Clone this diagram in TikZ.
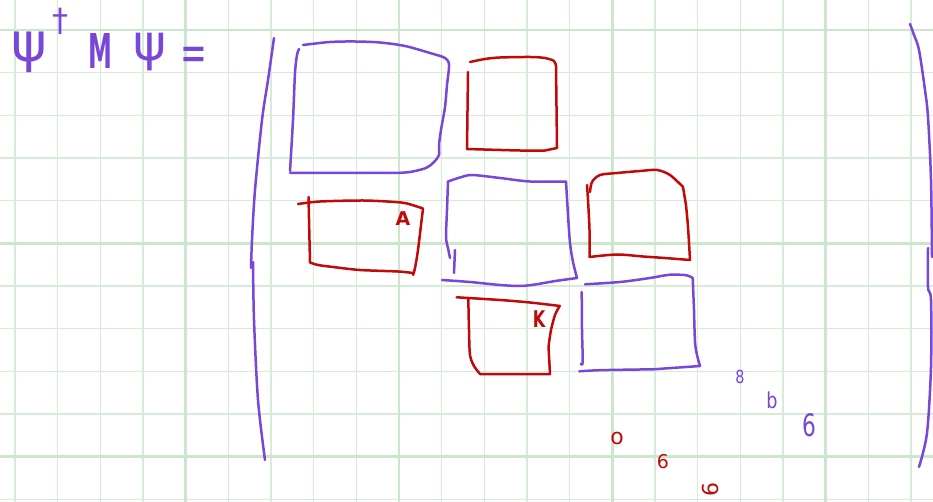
\documentclass[tikz,border=0pt]{standalone}
\usepackage{fontspec}
\setmainfont{DejaVu Sans}
\definecolor{inkpurple}{HTML}{7846D8}
\definecolor{inkred}{HTML}{C00A0A}
\definecolor{gridthin}{HTML}{D6ECD6}
\definecolor{gridmajor}{HTML}{CCE6CC}

\begin{document}
\begin{tikzpicture}[
        x=1pt, y=-1pt,
        gridline/.style={draw=gridthin, line width=1.4pt},
        gridbold/.style={draw=gridmajor, line width=2.8pt},
        ink/.style={draw=#1, line width=2.5pt, line cap=round, line join=round},
        glyph/.style={text=#1, inner sep=0pt}
    ]
        \useasboundingbox (0,0) rectangle (933,502);
        \fill[white] (0,0) rectangle (933,502);

        % Grid paper
        \foreach \i in {0,...,21} {
            \draw[gridline] ({15+42.67*\i},0) -- ({15+42.67*\i},502);
        }
        \foreach \i in {0,...,11} {
            \draw[gridline] (0,{30+42.67*\i}) -- (933,{30+42.67*\i});
        }
        \foreach \i in {4,9,14,19} {
            \draw[gridbold] ({15+42.67*\i},0) -- ({15+42.67*\i},502);
        }
        \foreach \i in {0,5,10} {
            \draw[gridbold] (0,{30+42.67*\i}) -- (933,{30+42.67*\i});
        }

        % Left-hand side
        \node[glyph=inkpurple, font=\fontsize{54}{54}\selectfont] (psiL) at (29,52) {ψ};
        \node[glyph=inkpurple, font=\fontsize{32}{32}\selectfont] (dag) at (60,21) {†};
        \node[glyph=inkpurple, font=\fontsize{48}{48}\selectfont\bfseries, xscale=0.5] (mat) at (100,51) {M};
        \node[glyph=inkpurple, font=\fontsize{50}{50}\selectfont] (psiR) at (150,52) {ψ};
        \node[glyph=inkpurple, font=\fontsize{32}{32}\selectfont, yscale=1.6] (eq) at (194,59) {=};

        % Brackets
        \draw[ink=inkpurple] plot[smooth] coordinates {(274,38) (268,80) (262,120) (255,190) (252,240) (251,268)};
        \draw[ink=inkpurple] plot[smooth] coordinates {(253,262) (254,320) (258,400) (265,460)};
        \draw[ink=inkpurple] plot[smooth] coordinates {(910,24) (914,35) (919,50) (925,90) (928,117) (931,180) (932,257)};
        \draw[ink=inkpurple] plot[smooth] coordinates {(928,248) (928,287) (931,300) (931,367) (927,433) (919,467)};

        % Diagonal blocks
        \draw[ink=inkpurple] plot[smooth] coordinates {(303,45) (330,42) (355,41.5) (380,42.5) (405,46) (430,53) (445,58) (449,65) (447,85) (445,107) (441,130) (439,145) (439,155) (434,162) (426,168) (410,172) (395,173)} -- (290,173);
        \draw[ink=inkpurple] plot[smooth] coordinates {(290,171) (293,120) (295,73) (297,55) (299,49)};

        \draw[ink=inkpurple] plot[smooth] coordinates {(448,181.5) (460,177.5) (472,175) (500,178) (530,181.5) (566,181.5)}
            -- plot[smooth] coordinates {(568,215) (570,243) (573,262) (577,278)}
            -- plot[smooth] coordinates {(555,281) (535,284.5) (520,286) (500,285) (470,282) (442,280)};
        \draw[ink=inkpurple] plot[smooth] coordinates {(448,181.5) (447,210) (446,237) (448,248) (450,258)};
        \draw[ink=inkpurple] (455,250) -- (454,273);

        \draw[ink=inkpurple] plot[smooth] coordinates {(585,284.3) (620,282) (650,278) (670,274.7) (686.7,275.3) (692.7,278)}
            -- plot[smooth] coordinates {(694,310) (695,342) (697,355) (700,366)}
            -- plot[smooth] coordinates {(653.3,369.3) (620,369.8) (596.7,370.3) (579.3,371.3)};
        \draw[ink=inkpurple] plot[smooth] coordinates {(581.7,292) (582,330) (582.7,362) (580.7,363.7)};

        % Off-diagonal blocks
        \draw[ink=inkred] plot[smooth] coordinates {(470,62) (485,59) (500,57.5) (530,57) (545,58) (554,61) (556,66)}
            -- (557,148) -- plot[smooth] coordinates {(545,150.5) (520,150.5) (467,149)};
        \draw[ink=inkred] (468,72) -- (467,149);

        \draw[ink=inkred] plot[smooth] coordinates {(298,204) (320,201.5) (363,200.5) (395,202) (407,203.5) (423,208.5)}
            -- plot[smooth] coordinates {(421,225) (418,250) (415,268) (413,275)};
        \draw[ink=inkred] plot[smooth] coordinates {(413,273) (398,271.5) (360,270) (333,267) (318,265) (310,262.5)} -- (308.5,197);

        \draw[ink=inkred] plot[smooth] coordinates {(587,185) (588,200) (589.5,230) (589.5,257)};
        \draw[ink=inkred] plot[smooth] coordinates {(590,192) (592,182) (600,175) (617,173) (640,171) (657,170) (670,175) (683,187)}
            -- plot[smooth] coordinates {(686,205) (688,227) (690,260)}
            -- plot[smooth] coordinates {(665,258) (643,256.5) (617,254.5) (589.5,257)};

        \draw[ink=inkred] plot[smooth] coordinates {(456.7,297.3) (500,300) (530,302.5) (560,306)};
        \draw[ink=inkred] plot[smooth] coordinates {(468.3,298.3) (469,330) (470,355) (474,366) (480,374)}
            -- (550,374) -- plot[smooth] coordinates {(548.5,346.7) (551,330) (555,315) (559.3,306.7)};

        % Block marks
        \node[glyph=inkred, font=\fontsize{19}{19}\selectfont\bfseries] (markA) at (403,219) {A};
        \node[glyph=inkred, font=\fontsize{23}{23}\selectfont\bfseries, xscale=0.7] (markK) at (539,319) {K};

        % Trailing dots
        \node[glyph=inkpurple, font=\fontsize{18}{18}\selectfont, xscale=0.8] (dotP1) at (740,377) {8};
        \node[glyph=inkpurple, font=\fontsize{22}{22}\selectfont, xscale=0.8] (dotP2) at (772,400) {b};
        \node[glyph=inkpurple, font=\fontsize{31}{31}\selectfont, xscale=0.7] (dotP3) at (809,425) {6};
        \node[glyph=inkred, font=\fontsize{22}{22}\selectfont] (dotR1) at (617,438) {o};
        \node[glyph=inkred, font=\fontsize{19}{19}\selectfont] (dotR2) at (663,462) {6};
        \node[glyph=inkred, font=\fontsize{22}{22}\selectfont, rotate=90] (dotR3) at (710,489) {6};

    \end{tikzpicture}
\end{document}
